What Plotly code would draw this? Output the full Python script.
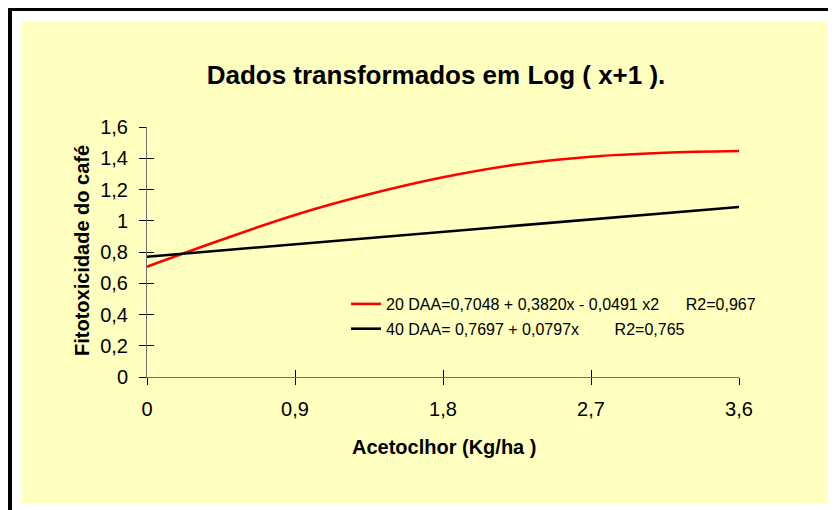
import plotly.graph_objects as go

# Data
x_red = [0, 0.45, 0.9, 1.35, 1.8, 2.25, 2.7, 3.15, 3.6]
y_red = [0.706, 0.877, 1.037, 1.169, 1.278, 1.36, 1.41, 1.435, 1.446]
x_black = [0, 0.9, 1.8, 2.7, 3.6]
y_black = [0.77, 0.85, 0.93, 1.01, 1.088]

name_red = "20 DAA=0,7048 + 0,3820x - 0,0491 x2" + "\u00a0" * 6 + "R2=0,967"
name_black = "40 DAA= 0,7697 + 0,0797x" + "\u00a0" * 8 + "R2=0,765"

title_text = "Dados transformados em Log ( x+1 )."
x_title = "Acetoclhor (Kg/ha )"
y_title = "Fitotoxicidade do café"

# page is offset by 8px (body margin); positions below are figure pixels
W, H = 828, 510
L, R, T, B = 139, 97, 119, 141
pw, ph = W - L - R, H - T - B


def px(v):
    return (v - L) / pw


def py(v):
    return (H - B - v) / ph


YELLOW = "#FFFFC0"
FONT = "Liberation Sans, Arial, sans-serif"

fig = go.Figure()
fig.add_trace(go.Scatter(x=x_red, y=y_red, mode="lines", name=name_red,
                         line=dict(color="#FF0000", width=2.6, shape="spline"),
                         legendgroup="a", xaxis="x", yaxis="y"))
fig.add_trace(go.Scatter(x=x_black, y=y_black, mode="lines", name=name_black,
                         line=dict(color="#000000", width=2.6),
                         legendgroup="b", xaxis="x2", yaxis="y2"))

axcommon = dict(showgrid=False, zeroline=False)
fig.update_layout(
    width=W, height=H,
    margin=dict(l=L, r=R, t=T, b=B, autoexpand=False),
    paper_bgcolor="white", plot_bgcolor=YELLOW,
    separators=",.",
    font=dict(family=FONT, color="black"),
    xaxis=dict(range=[0, 3.6], tick0=0, dtick=0.9, ticks="outside", ticklen=7,
               tickcolor="black", showline=True, linecolor="#707070", linewidth=1,
               tickfont=dict(size=20), ticklabelstandoff=7, **axcommon),
    yaxis=dict(range=[0, 1.6], tick0=0, dtick=0.2, ticks="outside", ticklen=7,
               tickcolor="black", showline=True, linecolor="#707070", linewidth=1,
               tickfont=dict(size=20), ticklabelstandoff=7, **axcommon),
    xaxis2=dict(range=[0, 3.6], tick0=0, dtick=0.9, ticks="inside", ticklen=7,
                tickcolor="black", overlaying="x", side="bottom",
                showticklabels=False, showline=False, anchor="y2", **axcommon),
    yaxis2=dict(range=[0, 1.6], tick0=0, dtick=0.2, ticks="inside", ticklen=7,
                tickcolor="black", overlaying="y", side="left",
                showticklabels=False, showline=False, anchor="x2", **axcommon),
    showlegend=True,
    legend=dict(x=px(338), y=py(279), xanchor="left", yanchor="top",
                bgcolor="rgba(0,0,0,0)", font=dict(size=16),
                traceorder="grouped", tracegroupgap=1),
    title=dict(text="<b>" + title_text + "</b>", x=px(428), xref="paper",
               xanchor="center", y=1 - 67 / H, yanchor="middle",
               font=dict(size=26)),
    annotations=[
        dict(text="<b>" + x_title + "</b>", xref="paper", yref="paper",
             x=px(436), y=py(439), xanchor="center", yanchor="middle",
             showarrow=False, font=dict(size=20)),
        dict(text="<b>" + y_title + "</b>", xref="paper", yref="paper",
             x=px(74), y=py(243), xanchor="center", yanchor="middle",
             textangle=-90, showarrow=False, font=dict(size=20)),
    ],
    shapes=[
        dict(type="rect", xref="paper", yref="paper", layer="below",
             x0=px(14), x1=px(840), y0=py(495), y1=py(13),
             fillcolor=YELLOW, line=dict(width=0)),
        dict(type="line", xref="paper", yref="paper", layer="below",
             x0=px(2), x1=px(2), y0=py(0), y1=py(515),
             line=dict(color="black", width=4)),
        dict(type="line", xref="paper", yref="paper", layer="below",
             x0=px(0), x1=px(840), y0=py(1), y1=py(1),
             line=dict(color="black", width=4)),
    ],
)

fig.write_html("out.html")
